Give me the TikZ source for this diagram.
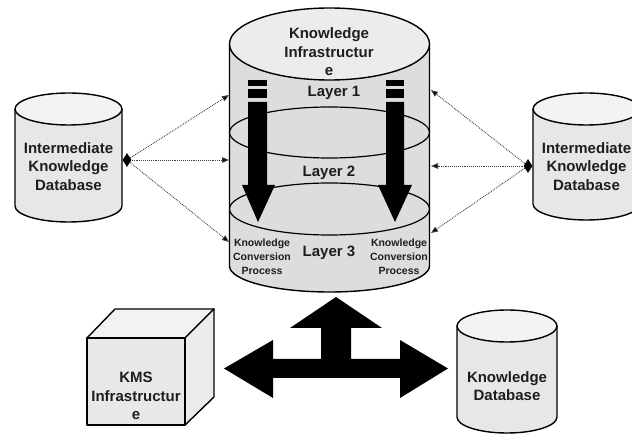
\documentclass[tikz,border=0pt]{standalone}
\usepackage{fontspec}
\setmainfont{Liberation Sans}
\usetikzlibrary{arrows.meta,shapes.geometric}
\definecolor{mainbody}{RGB}{221,221,221}
\definecolor{maintop}{RGB}{236,236,236}
\definecolor{sidebody}{RGB}{231,231,231}
\definecolor{sidetop}{RGB}{243,243,243}
\definecolor{cubefront}{RGB}{232,232,232}
\definecolor{cubetop}{RGB}{242,242,242}
\definecolor{cubeside}{RGB}{236,236,236}
\definecolor{txt}{RGB}{30,30,30}
\begin{document}
\begin{tikzpicture}[x=1pt,y=-1pt,
  outline/.style={draw=black,line width=1.4pt,line join=round},
  bigtxt/.style={font=\bfseries\fontsize{15}{18.5}\selectfont,text=txt,align=center,inner sep=0pt},
  smalltxt/.style={font=\bfseries\fontsize{10.5}{14}\selectfont,text=txt,align=center,inner sep=0pt},
  dotarrow/.style={draw=black!75,densely dotted,line width=0.9pt,-{Triangle[length=7pt,width=5.5pt,fill=black]}},
  dia/.style={diamond,fill=black,inner sep=0pt,minimum width=9pt,minimum height=14pt},
  blackshape/.style={fill=black,draw=none}]
\useasboundingbox (0,0) rectangle (632,435);
\begin{scope}
\clip (0,0) rectangle (632,435);

% ---------- main cylinder ----------
\path[outline,fill=mainbody] (229.5,44) -- (229.5,266)
  arc[start angle=180,end angle=360,x radius=100pt,y radius=26pt]
  -- (429.5,44) -- cycle;
\draw[line width=1.2pt] (329.5,132.5) ellipse [x radius=100pt,y radius=25.5pt];
\draw[line width=1.2pt] (329.5,209) ellipse [x radius=100pt,y radius=26pt];
\path[outline,fill=maintop] (329.5,44) ellipse [x radius=100pt,y radius=36pt];

% down arrows inside
\fill[blackshape] (248,80) rectangle (267,86);
\fill[blackshape] (248,89) rectangle (267,98);
\fill[blackshape] (248,102) -- (267,102) -- (267,185) -- (275,185) -- (258,222) -- (242,185) -- (248,185) -- cycle;
\fill[blackshape] (386,80) rectangle (404,86);
\fill[blackshape] (386,89) rectangle (404,98);
\fill[blackshape] (386,102) -- (404,102) -- (404,185) -- (412,185) -- (395,222) -- (378,185) -- (386,185) -- cycle;

\node[bigtxt] (mctitle) at (329,52) {Knowledge\\Infrastructur\\e};
\node[bigtxt] (layer1) at (334,93) {Layer 1};
\node[bigtxt] (layer2) at (329,173) {Layer 2};
\node[bigtxt] (layer3) at (329,253) {Layer 3};
\node[smalltxt] (kcpl) at (262,257) {Knowledge\\Conversion\\Process};
\node[smalltxt] (kcpr) at (399,257) {Knowledge\\Conversion\\Process};

% ---------- left intermediate cylinder ----------
\path[outline,fill=sidebody] (15,109) -- (15,206)
  arc[start angle=180,end angle=360,x radius=53.5pt,y radius=16pt]
  -- (122,109) -- cycle;
\path[outline,fill=sidetop] (68.5,109) ellipse [x radius=53.5pt,y radius=16pt];
\node[bigtxt] (lidb) at (68.5,166.5) {Intermediate\\Knowledge\\Database};

% ---------- right intermediate cylinder ----------
\path[outline,fill=sidebody] (533,109) -- (533,204)
  arc[start angle=180,end angle=360,x radius=53.5pt,y radius=16pt]
  -- (640,109) -- cycle;
\path[outline,fill=sidetop] (586.5,109) ellipse [x radius=53.5pt,y radius=16pt];
\node[bigtxt] (ridb) at (586.5,166.5) {Intermediate\\Knowledge\\Database};

% ---------- knowledge database ----------
\path[outline,fill=sidebody] (457,326) -- (457,417)
  arc[start angle=180,end angle=360,x radius=50pt,y radius=16pt]
  -- (557,326) -- cycle;
\path[outline,fill=sidetop] (507,326) ellipse [x radius=50pt,y radius=16pt];
\node[bigtxt] (kdb) at (507,386) {Knowledge\\Database};

% ---------- KMS cube ----------
\path[outline,fill=cubetop] (87,338) -- (115,309) -- (214,309) -- (185,338) -- cycle;
\path[outline,fill=cubeside] (185,338) -- (214,309) -- (214,397) -- (185,425) -- cycle;
\path[outline,fill=cubefront] (87,338) rectangle (185,425);
\node[bigtxt] (kms) at (136,396) {KMS\\Infrastructur\\e};

% ---------- big black three-way arrow ----------
\fill[blackshape] (224,368.5) -- (273,340) -- (273,359) -- (321,359) -- (321,328)
  -- (290,328) -- (336,297) -- (382,328) -- (351,328) -- (351,359) -- (400,359)
  -- (400,340) -- (448,368.5) -- (400,398) -- (400,378) -- (273,378) -- (273,398) -- cycle;

% ---------- dotted connectors ----------
\node[dia] (ldia) at (127,160) {};
\node[dia] (rdia) at (528,166) {};
\coordinate (lt) at (229,95);
\coordinate (lm) at (229,160);
\coordinate (lb) at (229,242);
\coordinate (rt) at (431,90);
\coordinate (rm) at (431,166);
\coordinate (rb) at (431,233);
\draw[dotarrow] (ldia) -- (lt);
\draw[dotarrow] (ldia) -- (lm);
\draw[dotarrow] (ldia) -- (lb);
\draw[dotarrow] (rdia) -- (rt);
\draw[dotarrow] (rdia) -- (rm);
\draw[dotarrow] (rdia) -- (rb);
\end{scope}
\end{tikzpicture}
\end{document}
